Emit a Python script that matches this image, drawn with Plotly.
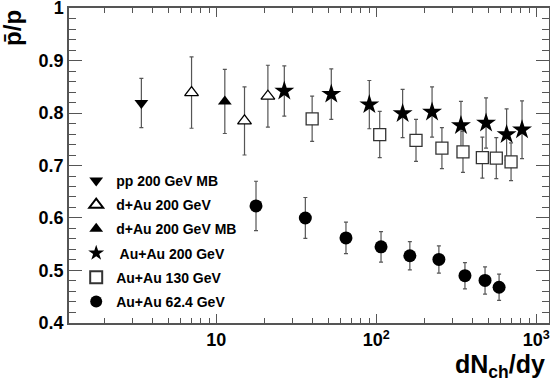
import numpy as np
import plotly.graph_objects as go

# ---- data ----
pp_x = [3.4]
pp_y = [0.819]
pp_e = [0.047]

dau_x = [7.0, 15.0, 21.0]
dau_y = [0.839, 0.785, 0.832]
dau_e = [0.068, 0.065, 0.059]

daumb_x = [11.3]
daumb_y = [0.822]
daumb_e = [0.061]

au200_x = [26.6, 52.3, 90.4, 146, 223, 338, 485, 652, 814]
au200_y = [0.842, 0.836, 0.816, 0.799, 0.802, 0.776, 0.781, 0.759, 0.768]
au200_e = [0.048, 0.048, 0.046, 0.046, 0.048, 0.046, 0.048, 0.049, 0.055]

au130_x = [39.7, 105, 177, 257, 348, 460, 562, 695]
au130_y = [0.789, 0.759, 0.748, 0.733, 0.726, 0.715, 0.714, 0.707]
au130_e = [0.043, 0.044, 0.040, 0.039, 0.039, 0.039, 0.039, 0.036]

au62_x = [17.7, 36.0, 64.6, 107, 162, 246, 358, 478, 585]
au62_y = [0.623, 0.600, 0.562, 0.545, 0.528, 0.521, 0.490, 0.481, 0.468]
au62_e = [0.047, 0.039, 0.030, 0.029, 0.027, 0.026, 0.025, 0.026, 0.025]

y_tickvals = [0.4, 0.5, 0.6, 0.7, 0.8, 0.9, 1.0]
y_ticktext = ["0.4", "0.5", "0.6", "0.7", "0.8", "0.9", "1"]
x_tickvals = [10, 100, 1000]
x_ticktext = ["10", "10<sup>2</sup>", "10<sup>3</sup>"]
x_minor = [m * d for d in (1, 10, 100) for m in range(2, 10)]

FONT = "Liberation Sans"
ERRC = "#555555"

series = [
    ("pp 200 GeV MB", pp_x, pp_y, pp_e, "triangle-down", 12, "black", "black"),
    ("d+Au 200 GeV", dau_x, dau_y, dau_e, "triangle-up", 12, "white", "black"),
    ("d+Au 200 GeV MB", daumb_x, daumb_y, daumb_e, "triangle-up", 12, "black", "black"),
    (" Au+Au 200 GeV", au200_x, au200_y, au200_e, "star", 15, "black", "black"),
    ("Au+Au 130 GeV", au130_x, au130_y, au130_e, "square", 12, "white", "#333333"),
    ("Au+Au 62.4 GeV", au62_x, au62_y, au62_e, "circle", 13, "black", "black"),
]

fig = go.Figure()
for i, (name, xs, ys, es, sym, sz, fill, line) in enumerate(series):
    fig.add_trace(go.Scatter(
        x=xs, y=ys, mode="markers", name=name, legendgroup=f"g{i}",
        marker=dict(symbol=sym, size=sz, color=fill,
                    line=dict(color=line, width=1.3 if fill == "white" else 0)),
        error_y=dict(type="data", array=es, visible=True, color=ERRC,
                     thickness=1.2, width=2),
    ))

axis_common = dict(
    showline=True, linecolor="#555555", linewidth=1.5, mirror="ticks",
    ticks="inside", tickcolor="#555555", tickwidth=1.2,
    showgrid=False, zeroline=False, automargin=False,
    ticklabeloverflow="allow",
    tickfont=dict(family=FONT, size=18, color="black", weight="bold"),
)

fig.update_layout(
    width=550, height=384,
    margin=dict(l=69, r=1, t=7.5, b=61),
    paper_bgcolor="white", plot_bgcolor="white",
    showlegend=True,
    legend=dict(
        x=0.015, y=0.502, xanchor="left", yanchor="top",
        font=dict(family=FONT, size=14, color="black", weight="bold"),
        bgcolor="rgba(0,0,0,0)", itemsizing="constant",
        traceorder="grouped", tracegroupgap=3,
    ),
    xaxis=dict(
        type="log", range=[np.log10(1.2), np.log10(1200)],
        tickvals=x_tickvals, ticktext=x_ticktext, ticklen=9,
        minor=dict(tickvals=x_minor, ticks="inside", ticklen=5,
                   tickcolor="#555555", tickwidth=1.2),
        **axis_common,
    ),
    yaxis=dict(
        range=[0.3999, 1.0001], tickvals=y_tickvals, ticktext=y_ticktext, ticklen=13,
        minor=dict(dtick=0.02, ticks="inside", ticklen=7,
                   tickcolor="#555555", tickwidth=1.2),
        **axis_common,
    ),
    annotations=[
        dict(text="<b>p\u0304/p</b>", xref="paper", yref="paper",
             x=-0.119, y=1.0, xanchor="center", yanchor="top",
             textangle=-90, showarrow=False,
             font=dict(family=FONT, size=24, color="black")),
        dict(text="<b>dN<sub>ch</sub>/dy</b>", xref="paper", yref="paper",
             x=0.995, y=-0.08, xanchor="right", yanchor="top",
             showarrow=False,
             font=dict(family=FONT, size=25, color="black")),
    ],
)

fig.write_html("out.html", config={"displayModeBar": False},
               post_script="document.body.style.margin='0';")
